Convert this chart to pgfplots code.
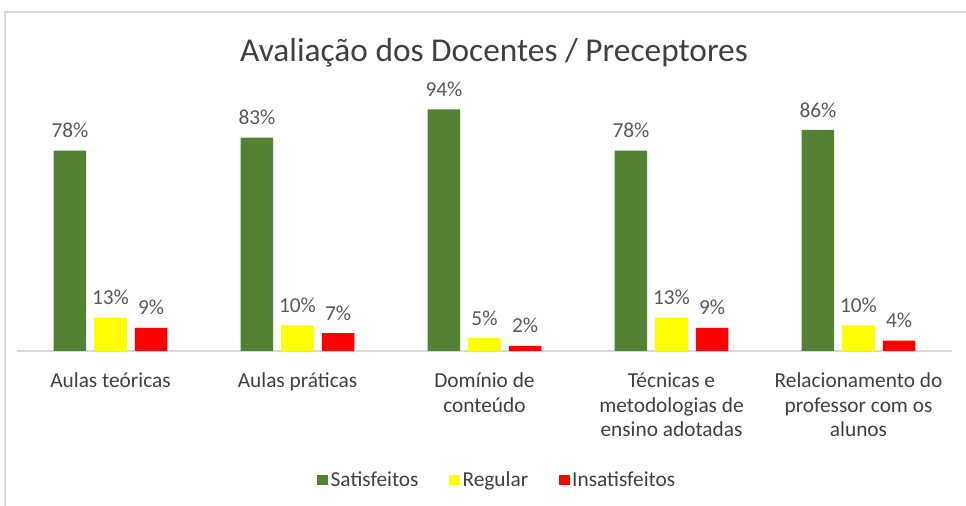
\documentclass[border=0pt]{standalone}
\usepackage{pgfplots}
\pgfplotsset{compat=1.18}
\usepackage{fontspec}
\setmainfont{Carlito}
\definecolor{cgreen}{HTML}{548235}
\definecolor{cyellow}{HTML}{FFFF00}
\definecolor{cred}{HTML}{FF0000}
\definecolor{ctext}{HTML}{404040}
\definecolor{clabel}{HTML}{595959}
\definecolor{cline}{HTML}{D9D9D9}
\definecolor{cframe}{HTML}{D9D9D9}
\begin{document}
\begin{tikzpicture}[x=0.75pt,y=0.75pt]
\useasboundingbox (0,0) rectangle (966,506);
\draw[cframe, line width=1.1pt] (5,-30) rectangle (1000,494);
\node[text=ctext, font=\fontsize{25}{30}\selectfont] at (494,453) {Avaliação dos Docentes / Preceptores};
\begin{axis}[
  at={(12.75pt,116.25pt)}, anchor=south west,
  width=701.25pt, height=192.75pt, scale only axis,
  xmin=-0.5, xmax=4.5, ymin=0, ymax=100,
  axis y line=none,
  axis x line*=bottom,
  x axis line style={draw=cline, line width=1.1pt, -},
  ytick=\empty,
  xtick={0,1,2,3,4},
  major tick length=0pt,
  /pgf/number format/assume math mode=true,
  xticklabels={{Aulas teóricas},{Aulas práticas},{Domínio de\\conteúdo},{Técnicas e\\metodologias de\\ensino adotadas},{Relacionamento do\\professor com os\\alunos}},
  xticklabel style={align=center, font=\fontsize{16}{18.4}\selectfont, text=ctext, anchor=north, yshift=-13pt},
  ybar=6pt, bar width=24.4pt,
  nodes near coords={\pgfmathprintnumber[assume math mode=true]{\pgfplotspointmeta}\%},
  every node near coord/.append style={font=\fontsize{16}{18}\selectfont, text=clabel, yshift=6pt},
  legend style={at={(0.514,-0.502)}, anchor=center, draw=none, fill=none, legend columns=3,
    font=\fontsize{16}{18}\selectfont, text=ctext,
    /tikz/every even column/.append style={column sep=21pt}},
  legend image code/.code={\fill[#1] (-3pt,-4pt) rectangle (5pt,4pt);},
]
\addplot[fill=cgreen, draw=none] coordinates {(0,78) (1,83) (2,94) (3,78) (4,86)};
\addplot[fill=cyellow, draw=none] coordinates {(0,13) (1,10) (2,5) (3,13) (4,10)};
\addplot[fill=cred, draw=none] coordinates {(0,9) (1,7) (2,2) (3,9) (4,4)};
\legend{Satisfeitos, Regular, Insatisfeitos}
\end{axis}
\end{tikzpicture}
\end{document}
